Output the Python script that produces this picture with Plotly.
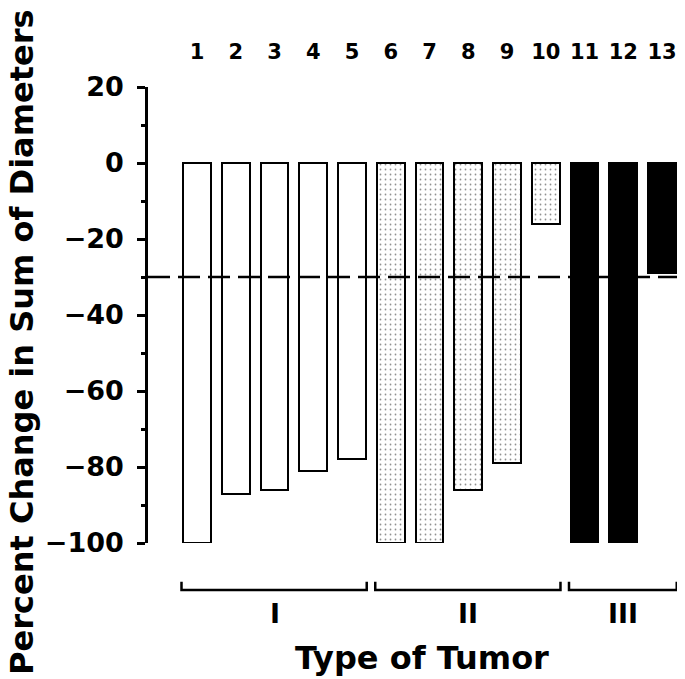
import plotly.graph_objects as go

# ---------------------------- Data ---------------------------- #
tumor_ids = list(range(1, 14))
pct_change = [-100, -87, -86, -81, -78, -100, -100, -86, -79, -16, -100, -100, -29]
tumor_type = ['I'] * 5 + ['II'] * 5 + ['III'] * 3
type_names = ['I', 'II', 'III']
y_ticks = [-100, -80, -60, -40, -20, 0, 20]
y_minor_ticks = [-90, -70, -50, -30, -10, 10]
response_cutoff = -30

FONT = 'DejaVu Sans'
PAGE_PAD = 8  # default body margin of the html page

fig = go.Figure()

# white / dotted / black fill per tumor type
styles = {
    'I': dict(color='white'),
    'II': dict(color='white',
               pattern=dict(shape='.', size=5, solidity=0.1,
                            fgcolor='#222222', bgcolor='white', fillmode='overlay')),
    'III': dict(color='black'),
}

for t in type_names:
    xs = [i for i, tt in zip(tumor_ids, tumor_type) if tt == t]
    ys = [v for v, tt in zip(pct_change, tumor_type) if tt == t]
    fig.add_trace(
        go.Bar(
            name=f"Type {t}",
            x=xs,
            y=ys,
            width=0.72,
            marker=dict(line=dict(color='black', width=2), **styles[t]),
            cliponaxis=False,
            showlegend=False,
        )
    )

# dashed line at -30 %
fig.add_shape(
    type='line', xref='paper', yref='y',
    x0=0, x1=0.995, y0=response_cutoff, y1=response_cutoff,
    line=dict(color='black', width=2.5, dash='22px,8px'),
)

# group brackets under the axis
for t in type_names:
    xs = [i for i, tt in zip(tumor_ids, tumor_type) if tt == t]
    x0, x1 = min(xs) - 0.4, max(xs) + 0.38
    fig.add_shape(
        type='path', xref='x', yref='paper',
        path=f"M {x0} -0.085 L {x0} -0.103 L {x1} -0.103 L {x1} -0.085",
        line=dict(color='black', width=2.5),
    )
    fig.add_annotation(
        x=(min(xs) + max(xs)) / 2, y=-0.155, xref='x', yref='paper',
        text=t, showarrow=False,
        font=dict(family=FONT, size=27, color='black', weight='bold'),
        xanchor='center', yanchor='middle',
    )

fig.add_annotation(
    x=0.513, y=-0.252, xref='paper', yref='paper',
    text='Type of Tumor', showarrow=False,
    font=dict(family=FONT, size=32, color='black', weight='bold'),
    xanchor='center', yanchor='middle',
)
fig.add_annotation(
    x=-0.236, y=0.441, xref='paper', yref='paper',
    text='Percent Change in Sum of Diameters', textangle=-90, showarrow=False,
    font=dict(family=FONT, size=32, color='black', weight='bold'),
    xanchor='center', yanchor='middle',
)

# -------------------------- Configure Layout ---------------------- #
fig.update_layout(
    width=685 - PAGE_PAD,
    height=679 - PAGE_PAD,
    margin=dict(l=148 - PAGE_PAD, r=3, t=87 - PAGE_PAD, b=136),
    plot_bgcolor='white',
    paper_bgcolor='white',
    bargap=0,
    xaxis=dict(
        range=[-0.2645, 13.516],
        side='top',
        tickvals=tumor_ids,
        ticks='',
        showline=False,
        showgrid=False,
        zeroline=False,
        ticklabelstandoff=23,
        tickfont=dict(family=FONT, size=21, color='black', weight='bold'),
    ),
    yaxis=dict(
        range=[-100, 20],
        tickvals=y_ticks,
        ticks='outside',
        ticklen=8,
        tickwidth=2.5,
        tickcolor='black',
        minor=dict(tickvals=y_minor_ticks, ticks='outside', ticklen=4,
                   tickwidth=2.5, tickcolor='black'),
        showline=True,
        linecolor='black',
        linewidth=2.5,
        showgrid=False,
        zeroline=False,
        ticklabelstandoff=8,
        tickfont=dict(family=FONT, size=27, color='black', weight='bold'),
    ),
)

fig.write_html("out.html")
